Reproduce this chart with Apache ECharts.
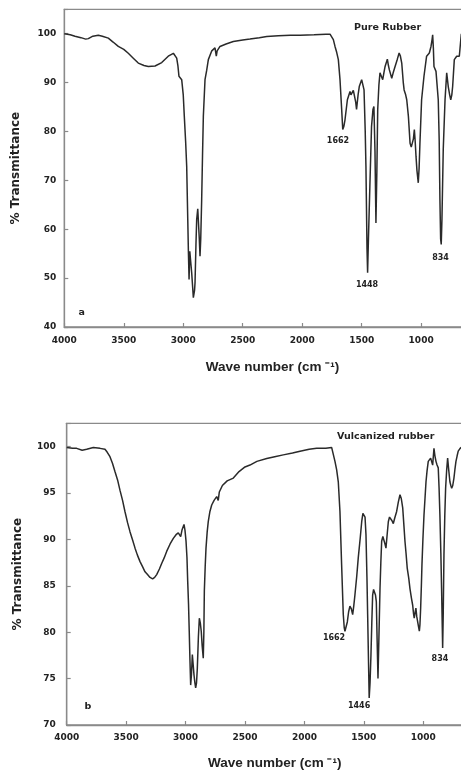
<!DOCTYPE html>
<html>
<head>
<meta charset="utf-8">
<script src="https://cdn.jsdelivr.net/npm/echarts@6/dist/echarts.min.js"></script>
<style>
html,body{margin:0;padding:0;background:#fff;}
#chart{width:461px;height:771px;}
</style>
</head>
<body>
<div id="chart"></div>
<script>
// ---------- data ----------
const pureWavenumber = [4000,3988,3950,3910,3860,3820,3798,3760,3714,3680,3630,3590,3546,3500,3462,3420,3378,3330,3294,3237,3181,3126,3083,3055,3045,3036,3020,3013,3000,2991,2980,2971,2962,2957,2951,2945,2940,2929,2915,2905,2901,2893,2887,2878,2873,2865,2859,2853,2845,2838,2831,2817,2803,2789,2760,2733,2722,2715,2691,2640,2579,2500,2439,2360,2298,2200,2100,2018,1900,1800,1766,1752,1738,1724,1710,1696,1682,1668,1659,1650,1640,1620,1598,1590,1578,1570,1561,1550,1543,1530,1520,1500,1490,1480,1470,1464,1455,1450,1443,1431,1417,1405,1397,1388,1380,1372,1365,1355,1346,1335,1323,1313,1303,1284,1275,1267,1247,1235,1219,1200,1185,1175,1163,1150,1143,1130,1121,1107,1093,1083,1074,1065,1057,1050,1043,1035,1024,1017,1010,996,976,954,931,917,908,903,897,892,875,856,848,842,836,831,825,814,799,785,772,760,751,742,735,721,701,679,668,662];
const pureTransmittance = [100.0,100.1,99.8,99.5,99.2,98.9,99.0,99.5,99.7,99.5,99.1,98.3,97.4,96.8,96.0,95.0,94.0,93.5,93.3,93.4,94.1,95.4,96.0,95.0,93.5,91.3,91.0,90.6,87.5,83.1,78.0,72.9,62.0,55.8,49.7,55.5,55.8,51.1,46.0,47.5,49.0,57.0,62.0,64.2,64.4,58.0,54.5,58.0,66.1,75.0,83.1,90.6,92.5,94.7,96.5,97.1,95.4,96.5,97.4,97.9,98.4,98.7,98.9,99.2,99.45,99.6,99.7,99.7,99.8,99.9,99.9,99.8,98.8,97.4,96.2,94.7,90.6,84.5,80.4,81.0,82.4,86.5,88.2,87.5,87.2,88.4,88.0,86.0,84.5,87.5,89.2,90.6,90.2,88.5,80.0,72.9,56.0,51.1,58.0,68.8,81.0,84.5,85.1,76.0,61.3,72.0,84.5,89.5,92.0,91.8,90.6,92.0,93.3,94.8,93.5,92.6,90.9,92.0,93.3,94.8,96.05,95.5,94.0,90.0,88.5,87.5,86.5,83.1,77.6,76.8,76.95,78.5,80.4,78.0,74.9,72.0,69.5,72.5,77.6,86.5,91.3,95.4,96.05,97.4,98.8,99.8,97.0,93.3,92.3,86.5,78.0,66.1,58.0,56.9,62.0,76.3,86.5,92.0,89.2,87.5,86.5,87.5,89.2,94.7,95.4,95.4,95.2,100.0];

const vulcWavenumber = [4000,3995,3950,3916,3870,3832,3776,3720,3678,3660,3636,3615,3594,3572,3552,3530,3510,3488,3467,3445,3425,3405,3383,3360,3341,3320,3299,3277,3260,3243,3220,3201,3180,3159,3130,3103,3080,3061,3050,3041,3030,3013,3005,2996,2988,2982,2975,2969,2963,2957,2950,2943,2936,2929,2922,2915,2908,2901,2892,2884,2876,2868,2860,2851,2846,2842,2835,2828,2818,2809,2795,2780,2760,2738,2725,2716,2690,2650,2598,2550,2500,2458,2400,2317,2250,2178,2100,2037,1960,1897,1820,1771,1757,1743,1729,1715,1701,1687,1673,1665,1659,1650,1639,1628,1617,1605,1594,1585,1575,1560,1547,1530,1518,1508,1499,1490,1482,1474,1468,1461,1455,1448,1440,1433,1426,1418,1409,1402,1395,1388,1381,1374,1364,1357,1350,1340,1331,1322,1314,1304,1294,1284,1274,1263,1252,1240,1224,1210,1196,1185,1173,1163,1154,1145,1135,1122,1112,1100,1089,1082,1076,1069,1062,1055,1047,1040,1033,1028,1022,1016,1011,1003,994,985,977,968,958,948,938,930,921,915,910,902,893,884,874,867,860,852,846,840,837,832,826,819,812,803,795,786,776,768,761,752,742,734,725,715,706,690,680];
const vulcTransmittance = [99.9,99.9,99.8,99.8,99.6,99.7,99.9,99.8,99.7,99.4,98.9,98.2,97.3,96.4,95.3,94.2,93.0,91.8,90.8,89.9,89.05,88.3,87.6,87.0,86.5,86.2,85.9,85.75,85.9,86.2,86.8,87.4,88.0,88.7,89.5,90.1,90.5,90.7,90.5,90.3,91.0,91.6,91.0,89.8,88.0,85.5,83.0,80.1,77.0,74.3,75.5,77.6,76.5,75.4,74.6,74.0,74.5,76.1,79.5,81.5,81.0,80.1,78.5,77.2,80.0,84.4,87.0,89.05,90.8,91.9,93.0,93.7,94.2,94.6,94.2,95.1,95.8,96.3,96.6,97.3,97.8,98.0,98.4,98.7,98.9,99.1,99.3,99.5,99.7,99.8,99.8,99.9,99.7,98.4,97.5,96.2,93.0,87.3,81.9,80.5,80.1,80.3,81.1,82.2,82.8,82.5,81.9,82.8,84.0,86.0,88.0,90.2,91.9,92.8,93.0,92.4,90.5,86.0,81.9,77.0,72.9,74.5,77.6,81.0,84.0,84.6,84.4,84.0,83.3,79.0,75.0,79.0,84.7,87.5,89.8,90.3,90.1,89.5,89.05,90.5,91.9,92.4,92.6,92.0,91.7,92.3,93.0,94.0,94.8,94.4,93.4,91.5,89.8,88.5,86.9,85.8,84.7,83.7,82.9,82.0,81.5,82.1,82.6,81.7,81.1,80.6,80.1,80.8,82.6,85.0,87.3,90.0,92.6,94.5,96.2,97.4,98.4,98.6,98.75,98.4,98.0,99.0,99.8,99.0,98.4,98.0,97.7,95.5,92.6,88.5,84.7,80.5,78.3,82.0,88.3,92.5,95.5,97.5,98.75,97.5,96.2,95.8,95.5,95.8,96.6,97.5,98.4,99.0,99.5,99.8,99.9];

const xTicks = [4000,3500,3000,2500,2000,1500,1000];
const pureYTicks = [40,50,60,70,80,90,100];
const vulcYTicks = [70,75,80,85,90,95,100];

// annotations: [text, wavenumber, transmittance]
const pureNotes = [["1662",1699,78.0],["1448",1455,48.7],["834",837,54.2]];
const vulcNotes = [["1662",1751,79.4],["1446",1540,72.1],["834",860,77.1]];
const pureTitle = ["Pure Rubber",1282,101.2];
const vulcTitle = ["Vulcanized rubber",1316,101.1];
const pureLetter = ["a",3854,42.9];
const vulcLetter = ["b",3821,72.0];

// ---------- chart ----------
const FONT = 'DejaVu Sans';
const TITLEFONT = 'Liberation Sans';
const TXT = '#222';
const AX = '#8a8a8a';

function pairs(xs, ys){ return xs.map((x,i)=>[x, ys[i]]); }

function xAxisCfg(gridIndex, margin){
  return {
    type:'value', gridIndex, inverse:true, min:500, max:4000, interval:500,
    name:'Wave number (cm \u207B\u00B9)', nameLocation:'middle', nameGap: gridIndex===0?33:31,
    nameTextStyle:{fontFamily:TITLEFONT,fontWeight:'bold',fontSize:13.5,color:TXT},
    axisLine:{show:true,onZero:false,lineStyle:{color:AX,width:1.3}},
    axisTick:{show:true,inside:true,length:4,lineStyle:{color:AX,width:1.2}},
    axisLabel:{margin, fontFamily:FONT,fontWeight:'bold',fontSize:9,color:TXT,
      formatter:v=> xTicks.includes(v)? String(v):''},
    splitLine:{show:false}
  };
}
function yAxisCfg(gridIndex, min, max, interval, ticks, margin, gap){
  return {
    type:'value', gridIndex, min, max, interval,
    name:'% Transmittance', nameLocation:'middle', nameGap:gap, nameRotate:90,
    nameTextStyle:{fontFamily:FONT,fontWeight:'bold',fontSize:12,color:TXT},
    axisLine:{show:true,lineStyle:{color:AX,width:1.3}},
    axisTick:{show:true,inside:true,length:4,lineStyle:{color:AX,width:1.2}},
    axisLabel:{margin, fontFamily:FONT,fontWeight:'bold',fontSize:9,color:TXT,
      formatter:v=> ticks.includes(v)? String(v):''},
    splitLine:{show:false}
  };
}
function noteData(notes, size){
  return notes.map(n=>({
    coord:[n[1],n[2]], value:n[0], symbolSize:0,
    label:{show:true,formatter:n[0],position:'inside',fontFamily:FONT,fontWeight:'bold',fontSize:size,color:TXT}
  }));
}

const chart = echarts.init(document.getElementById('chart'), null, {renderer:'canvas'});
chart.setOption({
  animation:false,
  backgroundColor:'#fff',
  grid:[
    {left:64.3, top:9.3, bottom:444, right:-19.6, show:true, borderColor:AX, borderWidth:1.3, backgroundColor:'transparent', outerBoundsMode:'none'},
    {left:66.7, top:423.3, bottom:46, right:-21.7, show:true, borderColor:AX, borderWidth:1.3, backgroundColor:'transparent', outerBoundsMode:'none'}
  ],
  xAxis:[ xAxisCfg(0,9), xAxisCfg(1,8) ],
  yAxis:[
    yAxisCfg(0,40,105,10,pureYTicks,8,42),
    yAxisCfg(1,70,102.5,5,vulcYTicks,11,43)
  ],
  series:[
    {
      type:'line', xAxisIndex:0, yAxisIndex:0, data:pairs(pureWavenumber,pureTransmittance),
      showSymbol:false, symbol:'none', lineStyle:{color:'#2a2a2a',width:1.5}, silent:true,
      markPoint:{symbol:'circle', symbolSize:0, animation:false,
        data: noteData(pureNotes,8).concat(noteData([pureTitle],9.5)).concat(noteData([pureLetter],9.5))}
    },
    {
      type:'line', xAxisIndex:1, yAxisIndex:1, data:pairs(vulcWavenumber,vulcTransmittance),
      showSymbol:false, symbol:'none', lineStyle:{color:'#2a2a2a',width:1.5}, silent:true,
      markPoint:{symbol:'circle', symbolSize:0, animation:false,
        data: noteData(vulcNotes,8).concat(noteData([vulcTitle],9.5)).concat(noteData([vulcLetter],9.5))}
    }
  ]
});
</script>
</body>
</html>
